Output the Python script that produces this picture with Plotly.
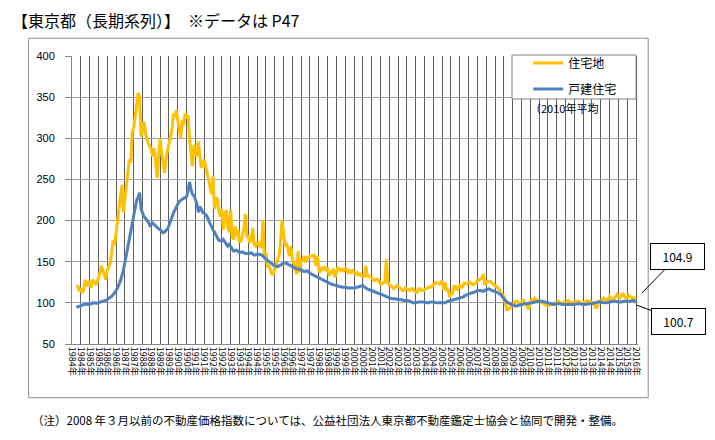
import plotly.graph_objects as go

FONT = "Noto Sans CJK JP, sans-serif"

# 住宅地: monthly index, Apr 1984 .. Jan 2016
residential_land = [
    119, 121, 114, 118, 112, 116, 128, 120, 126,                  # 1984 (Apr-Dec)
    124, 118, 128, 126, 122, 125, 130, 136, 145, 138, 134, 128,   # 1985
    140, 144, 148, 160, 176, 170, 188, 200, 214, 226, 243, 210,   # 1986
    228, 240, 262, 274, 270, 308, 312, 326, 346, 355, 350, 302,   # 1987
    312, 320, 308, 298, 294, 290, 286, 278, 288, 270, 252, 280,   # 1988
    300, 282, 270, 258, 276, 284, 290, 298, 310, 330, 326, 334,   # 1989
    320, 310, 300, 322, 316, 330, 326, 328, 300, 282, 266, 292,   # 1990
    286, 278, 296, 280, 264, 270, 274, 266, 258, 250, 240, 232,   # 1991
    254, 214, 228, 226, 210, 205, 214, 189, 206, 213, 193, 186,   # 1992
    213, 181, 177, 193, 181, 189, 175, 175, 181, 190, 208, 181,   # 1993
    181, 173, 177, 191, 171, 169, 173, 173, 169, 167, 201, 153,   # 1994
    161, 145, 145, 139, 135, 135, 141, 150, 153, 157, 173, 201,   # 1995
    185, 169, 173, 165, 157, 169, 153, 149, 140, 135, 163, 137,   # 1996
    153, 151, 157, 149, 155, 155, 157, 157, 157, 159, 145, 157,   # 1997
    141, 137, 143, 141, 143, 139, 143, 133, 137, 139, 141, 131,   # 1998
    137, 143, 141, 139, 141, 139, 141, 141, 137, 139, 137, 139,   # 1999
    137, 135, 137, 134, 135, 133, 133, 131, 145, 133, 133, 131,   # 2000
    131, 128, 127, 129, 129, 126, 123, 123, 125, 125, 153, 125,   # 2001
    121, 121, 119, 117, 119, 121, 120, 119, 117, 115, 115, 118,   # 2002
    117, 115, 115, 117, 117, 115, 113, 113, 117, 117, 115, 115,   # 2003
    116, 118, 118, 119, 119, 120, 121, 123, 125, 124, 123, 124,   # 2004
    127, 116, 125, 114, 117, 107, 111, 111, 120, 120, 115, 118,   # 2005
    122, 119, 120, 124, 123, 123, 125, 125, 123, 122, 123, 124,   # 2006
    127, 128, 128, 130, 135, 122, 124, 126, 126, 126, 124, 122,   # 2007
    121, 120, 118, 116, 112, 110, 108, 100, 92, 92, 94, 96,       # 2008
    98, 100, 102, 102, 99, 96, 100, 104, 101, 98, 94, 92,         # 2009
    102, 104, 103, 106, 104, 103, 102, 102, 100, 99, 98, 97,      # 2010
    96, 97, 99, 98, 98, 100, 101, 102, 100, 99, 99, 101,          # 2011
    100, 102, 103, 101, 100, 100, 101, 102, 101, 102, 100, 99,    # 2012
    99, 101, 102, 103, 102, 101, 100, 100, 97, 93, 98, 102,       # 2013
    102, 104, 106, 104, 103, 105, 108, 106, 104, 105, 107, 110,   # 2014
    107, 106, 109, 112, 108, 106, 106, 109, 108, 106, 105, 106,   # 2015
    104.9,                                                        # 2016 (Jan)
]

# 戸建住宅: (decimal year, index)
detached_points = [
    (1984.25, 94.5), (1984.42, 96), (1984.58, 97), (1984.75, 98.5), (1984.92, 98),
    (1985.08, 99), (1985.25, 100), (1985.42, 99.5), (1985.58, 101), (1985.75, 102),
    (1985.92, 103), (1986.08, 105), (1986.25, 108), (1986.42, 112), (1986.58, 118),
    (1986.75, 127), (1986.92, 140), (1987.08, 158), (1987.25, 178), (1987.42, 197),
    (1987.5, 209), (1987.58, 219), (1987.67, 225), (1987.75, 228), (1987.83, 234),
    (1987.92, 214), (1988.0, 208), (1988.08, 205), (1988.17, 203), (1988.25, 201),
    (1988.33, 198), (1988.42, 194), (1988.5, 196), (1988.58, 197), (1988.67, 195),
    (1988.75, 193), (1988.83, 191), (1988.92, 190), (1989.0, 189), (1989.08, 187),
    (1989.17, 185), (1989.25, 186), (1989.33, 188), (1989.42, 190), (1989.5, 194),
    (1989.58, 198), (1989.67, 204), (1989.75, 209), (1989.83, 213), (1989.92, 217),
    (1990.0, 220), (1990.08, 223), (1990.17, 225), (1990.25, 226), (1990.33, 227),
    (1990.42, 228), (1990.5, 229), (1990.58, 236), (1990.67, 247), (1990.75, 238),
    (1990.83, 232), (1990.92, 230), (1991.0, 226), (1991.08, 221), (1991.17, 210),
    (1991.25, 217), (1991.33, 214), (1991.42, 210), (1991.5, 209), (1991.58, 207),
    (1991.67, 205), (1991.75, 200), (1991.83, 196), (1991.92, 193), (1992.0, 189),
    (1992.08, 186), (1992.17, 181), (1992.25, 179), (1992.33, 176), (1992.42, 175),
    (1992.5, 175), (1992.58, 177), (1992.67, 174), (1992.75, 170), (1992.83, 169),
    (1992.92, 171), (1993.0, 168), (1993.17, 163), (1993.33, 164), (1993.5, 161),
    (1993.67, 162), (1993.83, 160), (1994.0, 160), (1994.17, 161), (1994.33, 158),
    (1994.5, 159), (1994.67, 159), (1994.83, 157), (1995.0, 153), (1995.17, 150),
    (1995.33, 147), (1995.5, 145), (1995.67, 144), (1995.83, 146), (1996.0, 148),
    (1996.17, 148), (1996.33, 146), (1996.5, 144), (1996.67, 142), (1996.83, 141),
    (1997.0, 140), (1997.17, 138), (1997.33, 139), (1997.5, 136), (1997.67, 134),
    (1997.83, 132), (1998.0, 130), (1998.17, 128), (1998.33, 126), (1998.5, 124),
    (1998.67, 123), (1998.83, 122), (1999.0, 121), (1999.17, 120), (1999.33, 119),
    (1999.5, 119), (1999.67, 118), (1999.83, 118), (2000.0, 118), (2000.17, 119),
    (2000.33, 120), (2000.5, 121), (2000.67, 118), (2000.83, 116), (2001.0, 115),
    (2001.17, 113), (2001.33, 112), (2001.5, 111), (2001.67, 109), (2001.83, 107),
    (2002.0, 106), (2002.17, 105), (2002.33, 105), (2002.5, 104), (2002.67, 104),
    (2002.83, 103), (2003.0, 103), (2003.17, 102), (2003.33, 100), (2003.5, 100),
    (2003.67, 101), (2003.83, 101), (2004.0, 101), (2004.17, 100), (2004.33, 101),
    (2004.5, 101), (2004.67, 100), (2004.83, 100), (2005.0, 100), (2005.17, 100),
    (2005.33, 102), (2005.5, 103), (2005.67, 104), (2005.83, 105), (2006.0, 106),
    (2006.17, 107), (2006.33, 109), (2006.5, 111), (2006.67, 112), (2006.83, 113),
    (2007.0, 115), (2007.17, 115), (2007.33, 114), (2007.5, 116), (2007.67, 117),
    (2007.83, 115), (2008.0, 114), (2008.17, 112), (2008.33, 110), (2008.5, 105),
    (2008.67, 101), (2008.83, 99), (2009.0, 97), (2009.17, 96), (2009.33, 97),
    (2009.5, 98), (2009.67, 99), (2009.83, 99), (2010.0, 100), (2010.17, 101),
    (2010.33, 101), (2010.5, 102), (2010.67, 102), (2010.83, 101), (2011.0, 100),
    (2011.17, 99), (2011.33, 98), (2011.5, 99), (2011.67, 99), (2011.83, 98),
    (2012.0, 98), (2012.17, 98), (2012.33, 98), (2012.5, 98), (2012.67, 99),
    (2012.83, 99), (2013.0, 98), (2013.17, 98), (2013.33, 99), (2013.5, 99),
    (2013.67, 100), (2013.83, 101), (2014.0, 101), (2014.17, 100), (2014.33, 100),
    (2014.5, 101), (2014.67, 102), (2014.83, 102), (2015.0, 101), (2015.17, 101),
    (2015.33, 102), (2015.5, 102), (2015.67, 102), (2015.83, 103), (2016.0, 100.7),
]

tick_years = list(range(1984, 2017))
tick_vals = []
tick_text = []
for y in tick_years:
    for half in (0.0, 0.5):
        if y == 2016 and half:
            continue
        tick_vals.append(y + half)
        tick_text.append(f"{y}年")

y_ticks = [50, 100, 150, 200, 250, 300, 350, 400]

land_x = [1984 + (3 + i) / 12 for i in range(len(residential_land))]
detached_x = [p[0] for p in detached_points]
detached_y = [p[1] for p in detached_points]

fig = go.Figure()
fig.add_trace(go.Scatter(x=land_x, y=residential_land, mode="lines", name="住宅地",
                         legendgroup="a", line=dict(color="#FFC000", width=3)))
fig.add_trace(go.Scatter(x=detached_x, y=detached_y, mode="lines", name="戸建住宅",
                         legendgroup="b", line=dict(color="#4F81BD", width=3)))

# page frame and legend box
fig.add_shape(type="rect", xref="paper", yref="paper", x0=-0.0766, x1=1.018, y0=-0.1865, y1=1.0615,
              line=dict(color="#8c8c8c", width=1), fillcolor="rgba(0,0,0,0)", layer="below")
fig.add_shape(type="rect", xref="paper", yref="paper", x0=0.7774, x1=0.9965, y0=0.8507, y1=1.0035,
              line=dict(color="#808080", width=1), fillcolor="white", layer="above")

fig.add_annotation(text="【東京都（長期系列）】　※データは P47", xref="paper", yref="paper",
                   x=-0.11, y=1.124, xanchor="left", yanchor="middle", showarrow=False,
                   font=dict(size=16, color="black", family=FONT))
fig.add_annotation(text="（注）2008 年３月以前の不動産価格指数については、公益社団法人東京都不動産鑑定士協会と協同で開発・整備。",
                   xref="paper", yref="paper", x=-0.075, y=-0.264, xanchor="left", yanchor="middle",
                   showarrow=False, font=dict(size=11.5, color="black", family=FONT))
fig.add_annotation(text="（2010年平均", xref="paper", yref="paper", x=0.805, y=0.819,
                   xanchor="left", yanchor="middle", showarrow=False,
                   font=dict(size=11, color="black", family=FONT))

for label, px_, py_, ax, ay in [("104.9", 1.007, 0.177, 36, -37), ("100.7", 0.998, 0.135, 42, 16)]:
    fig.add_annotation(text=label, xref="paper", yref="paper", x=px_, y=py_, ax=ax, ay=ay,
                       showarrow=True, arrowhead=0, arrowwidth=1, arrowcolor="black",
                       bordercolor="black", borderwidth=1, bgcolor="white", borderpad=4,
                       width=45, height=17, font=dict(size=12, color="black", family=FONT))

# page body has an 8px margin, so the figure is shrunk by that much
fig.update_layout(
    width=707, height=432, autosize=False,
    margin=dict(l=64, r=77, t=48, b=96),
    paper_bgcolor="white", plot_bgcolor="white",
    font=dict(family=FONT, color="black"),
    showlegend=True,
    legend=dict(x=0.806, y=1.026, xanchor="left", yanchor="top", bgcolor="rgba(0,0,0,0)",
                font=dict(size=12, family=FONT), tracegroupgap=7),
    xaxis=dict(range=[1984.0, 2016.11], tickmode="array", tickvals=tick_vals, ticktext=tick_text,
               tickangle=90, tickfont=dict(size=9, family=FONT), showgrid=True,
               gridcolor="#5c5c5c", gridwidth=1, showline=True, linecolor="#868686",
               zeroline=False, ticks=""),
    yaxis=dict(range=[50, 400], tickmode="array", tickvals=y_ticks, showgrid=True,
               gridcolor="#a0a0a0", gridwidth=1, showline=True, linecolor="#868686",
               zeroline=False, ticks="outside", ticklen=6, tickcolor="#868686",
               ticklabelstandoff=8,
               tickfont=dict(size=11, family="Liberation Sans, Arial")),
)

fig.write_html("out.html")
